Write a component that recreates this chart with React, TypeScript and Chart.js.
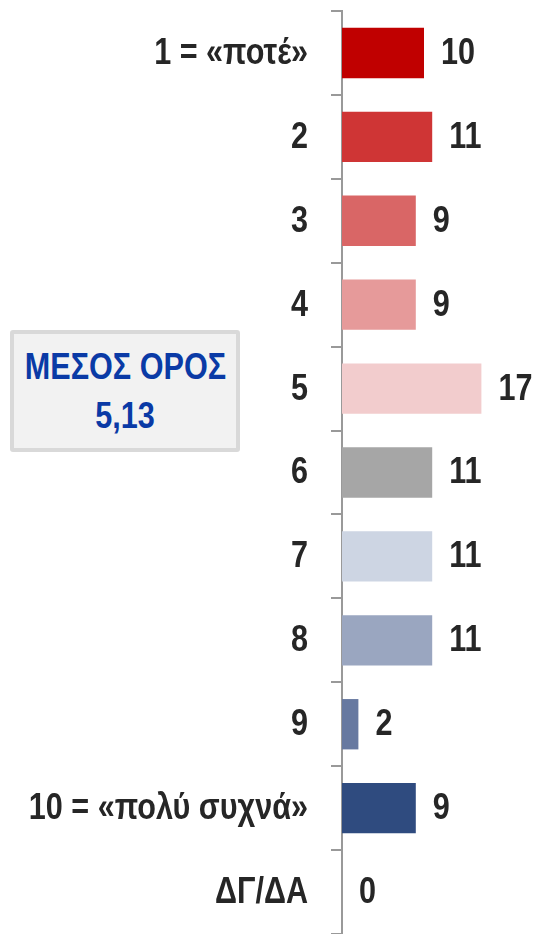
import React, { useEffect, useRef } from "react";
import { Chart, registerables } from "chart.js";

Chart.register(...registerables);

const categories = [
  "1 = «ποτέ»",
  "2",
  "3",
  "4",
  "5",
  "6",
  "7",
  "8",
  "9",
  "10 = «πολύ συχνά»",
  "ΔΓ/ΔΑ",
];
const values = [10, 11, 9, 9, 17, 11, 11, 11, 2, 9, 0];
const barColors = [
  "#c00000",
  "#cf3535",
  "#d96666",
  "#e69a9a",
  "#f2cccd",
  "#a6a6a6",
  "#cdd5e3",
  "#9aa6c0",
  "#6779a0",
  "#2f4b7f",
  "#2f4b7f",
];
const meanTitle = "ΜΕΣΟΣ ΟΡΟΣ";
const meanValue = "5,13";
const xMin = 0;
const xMax = 20;

const FONT = "'Liberation Sans', Arial, sans-serif";
const TEXT = "#262626";
const AXIS = "#999999";
const SQUEEZE = 0.85;

const narrowText = {
  id: "narrowText",
  afterDatasetsDraw(chart: any) {
    const ctx = chart.ctx;
    const meta = chart.getDatasetMeta(0);
    const yScale = chart.scales.y;
    ctx.save();
    ctx.scale(SQUEEZE, 1);
    ctx.font = `bold 36px ${FONT}`;
    ctx.fillStyle = TEXT;
    ctx.textBaseline = "middle";
    // category labels
    ctx.textAlign = "right";
    const labelRight = yScale.right - 11 - 23;
    categories.forEach((c, i) => {
      const y = yScale.getPixelForTick(i);
      ctx.fillText(c, labelRight / SQUEEZE, y + 1);
    });
    // value labels
    ctx.textAlign = "left";
    meta.data.forEach((bar: any, i: number) => {
      ctx.fillText(String(values[i]), (bar.x + 17) / SQUEEZE, bar.y + 1);
    });
    ctx.restore();
  },
};

export default function App() {
  const ref = useRef<HTMLCanvasElement | null>(null);

  useEffect(() => {
    if (!ref.current) return;
    const chart = new Chart(ref.current, {
      type: "bar",
      data: {
        labels: categories,
        datasets: [
          {
            data: values,
            backgroundColor: barColors,
            borderWidth: 0,
            barPercentage: 0.6,
            categoryPercentage: 1,
          },
        ],
      },
      options: {
        indexAxis: "y",
        responsive: false,
        animation: false,
        devicePixelRatio: 1,
        layout: { padding: { left: 0, top: 11, right: 30, bottom: 0 } },
        plugins: {
          legend: { display: false },
          tooltip: { enabled: false },
        },
        scales: {
          x: { display: false, min: xMin, max: xMax },
          y: {
            type: "category",
            grid: {
              display: true,
              drawOnChartArea: false,
              drawTicks: true,
              tickLength: 11,
              color: AXIS,
              lineWidth: 2,
              offset: true,
            },
            border: { display: true, color: AXIS, width: 2 },
            ticks: {
              color: "rgba(0,0,0,0)",
              padding: 23,
              font: { family: FONT, size: 36, weight: "bold" },
            },
            afterFit: (s: any) => {
              s.width = 342;
              s.paddingTop = 0;
              s.paddingBottom = 0;
            },
          },
        },
      },
      plugins: [narrowText],
    } as any);
    return () => chart.destroy();
  }, []);

  const lineStyle: React.CSSProperties = {
    whiteSpace: "nowrap",
    transform: `scaleX(${SQUEEZE})`,
    transformOrigin: "center",
  };

  return (
    <div
      style={{
        position: "absolute",
        left: 0,
        top: 0,
        width: 536,
        height: 934,
        overflow: "hidden",
        background: "#ffffff",
      }}
    >
      <canvas ref={ref} width={536} height={934} style={{ display: "block" }} />
      <div
        style={{
          position: "absolute",
          left: 10,
          top: 330,
          width: 230,
          height: 122,
          boxSizing: "border-box",
          border: "4px solid #d9d9d9",
          borderRadius: 3,
          background: "#f2f2f2",
          display: "flex",
          flexDirection: "column",
          alignItems: "center",
          justifyContent: "center",
          fontFamily: FONT,
          fontWeight: "bold",
          fontSize: 36,
          lineHeight: "49px",
          color: "#0a3aa6",
        }}
      >
        <div style={lineStyle}>{meanTitle}</div>
        <div style={lineStyle}>{meanValue}</div>
      </div>
    </div>
  );
}
